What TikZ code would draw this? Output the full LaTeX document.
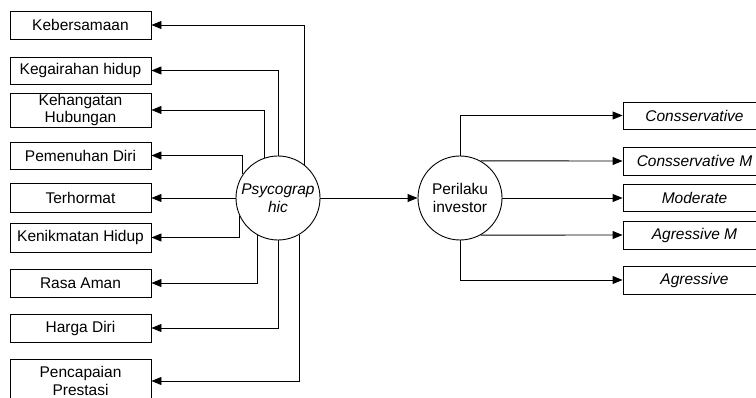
\documentclass[tikz,border=0pt]{standalone}
\usepackage{fontspec}
\setmainfont{Liberation Sans}
\usetikzlibrary{arrows.meta}
\begin{document}
\begin{tikzpicture}[x=1pt,y=-1pt,
  box/.style={draw, line width=0.9pt, minimum width=141pt, inner sep=0pt, align=center,
    font=\fontsize{15.5}{17.5}\selectfont},
  rbox/.style={box, minimum width=143pt, font=\fontsize{15.5}{17.5}\selectfont\itshape},
  circ/.style={draw, circle, line width=0.9pt, minimum size=84pt, inner sep=0pt, align=center,
    font=\fontsize{15.5}{17.5}\selectfont},
  conn/.style={line width=0.9pt, -{Triangle[length=10pt,width=8pt]}}]
\clip (0,0) rectangle (756,398);
% left boxes
\node[box, minimum height=28pt] (keb) at (80.5,25) {Kebersamaan};
\node[box, minimum height=27pt] (keg) at (80.5,70.5) {Kegairahan hidup};
\node[box, minimum height=34pt] (keh) at (80.5,110) {Kehangatan\\Hubungan};
\node[box, minimum height=27pt] (pem) at (80.5,155.5) {Pemenuhan Diri};
\node[box, minimum height=29pt] (ter) at (80.5,198) {Terhormat};
\node[box, minimum height=29pt] (ken) at (80.5,237.5) {Kenikmatan Hidup};
\node[box, minimum height=28pt] (ras) at (80.5,283) {Rasa Aman};
\node[box, minimum height=28pt] (har) at (80.5,328) {Harga Diri};
\node[box, minimum height=44pt] (pen) at (80.5,381) {Pencapaian\\Prestasi};
% circles
\node[circ] (psy) at (278,198) {\itshape Psycograp\\\itshape hic};
\node[circ] (per) at (460,198) {Perilaku\\investor};
% right boxes
\node[rbox, minimum height=27pt] (cons) at (694.5,115.5) {Consservative};
\node[rbox, minimum height=28pt] (consm) at (694.5,161) {Consservative M};
\node[rbox, minimum height=27pt] (mod) at (694.5,198) {Moderate};
\node[rbox, minimum height=28pt] (agrm) at (694.5,235) {Agressive M};
\node[rbox, minimum height=28pt] (agr) at (694.5,280) {Agressive};
% left connectors
\draw[conn] (psy.51.8) |- (keb.east);
\draw[conn] (psy.90) |- (keg.east);
\draw[conn] (psy.109.5) |- (keh.east);
\draw[conn] (psy.146.4) |- (pem.east);
\draw[conn] (psy.west) -- (ter.east);
\draw[conn] (psy.205.2) |- (ken.east);
\draw[conn] (psy.241.6) |- (ras.east);
\draw[conn] (psy.270) |- (har.east);
\draw[conn] (psy.300) |- (pen.east);
% middle
\draw[conn] (psy.east) -- (per.west);
% right connectors
\draw[conn] (per.90) |- (cons.west);
\draw[conn] (per.61.8) -- (consm.west);
\draw[conn] (per.east) -- (mod.west);
\draw[conn] (per.-61.8) -- (agrm.west);
\draw[conn] (per.270) |- (agr.west);
\end{tikzpicture}
\end{document}
